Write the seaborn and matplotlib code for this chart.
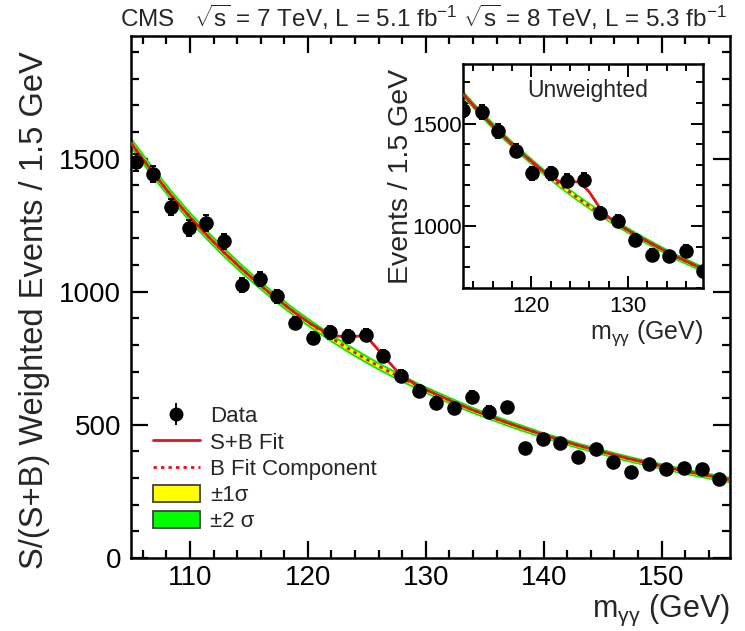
import numpy as np
import pandas as pd
import matplotlib
matplotlib.use("Agg")
import matplotlib.pyplot as plt
from matplotlib.lines import Line2D
from matplotlib.patches import Patch
from matplotlib.ticker import MultipleLocator
import seaborn as sns

# ---------------- data ----------------
mass = [105.4, 106.9, 108.4, 109.9, 111.4, 112.9, 114.4, 115.9, 117.4, 118.9,
        120.4, 121.9, 123.4, 124.9, 126.4, 127.9, 129.4, 130.9, 132.4, 133.9,
        135.4, 136.9, 138.4, 139.9, 141.4, 142.9, 144.4, 145.9, 147.4, 148.9,
        150.4, 151.9, 153.4, 154.9]
weighted_events = [1486, 1442, 1318, 1239, 1258, 1189, 1024, 1048, 982, 882,
                   826, 847, 832, 836, 759, 684, 628, 583, 563, 606,
                   550, 567, 412, 447, 431, 381, 410, 361, 324, 352,
                   335, 339, 333, 296]
weighted_err = [32, 31, 30, 29, 29, 28, 26, 26, 25, 24,
                23, 23, 23, 23, 22, 21, 20, 20, 19, 20,
                19, 19, 17, 17, 17, 16, 16, 15, 15, 15,
                15, 15, 15, 14]

fit_mass = [105.0, 105.4, 106.9, 108.4, 109.9, 111.4, 112.9, 114.4, 115.9, 117.4,
            118.9, 120.4, 121.9, 123.4, 124.9, 126.4, 127.9, 129.4, 130.9, 132.4,
            133.9, 135.4, 136.9, 138.4, 139.9, 141.4, 142.9, 144.4, 145.9, 147.4,
            148.9, 150.4, 151.9, 153.4, 154.9, 155.8]
b_fit = [1559, 1534, 1445, 1362, 1285, 1214, 1147, 1085, 1027, 972,
         921, 874, 829, 787, 748, 711, 677, 644, 614, 585,
         557, 532, 508, 485, 463, 443, 423, 405, 388, 371,
         356, 341, 327, 314, 301, 294]
sb_fit = [1559, 1534, 1445, 1362, 1285, 1214, 1147, 1085, 1027, 972,
          921, 875, 837, 829, 836, 759, 685, 645, 614, 585,
          557, 532, 508, 485, 463, 443, 423, 405, 388, 371,
          356, 341, 327, 314, 301, 294]
band1 = [11, 11, 11, 10.5, 10.5, 10, 10, 9.5, 9, 9,
         8.5, 8.5, 8, 8, 8, 7.5, 7.5, 7, 7, 7,
         6.5, 6.5, 6.5, 6.5, 6, 6, 6, 6, 6, 6,
         6, 6, 6, 6, 6, 6]
band2 = [22, 22, 22, 21, 21, 20, 20, 19, 18, 18,
         17, 17, 16, 16, 16, 15, 15, 14, 14, 14,
         13, 13, 13, 13, 12, 12, 12, 12, 12, 12,
         12, 12, 12, 12, 12, 12]

# inset (unweighted)
mass_in = [113.0, 114.9, 116.6, 118.4, 120.1, 122.0, 123.7, 125.5, 127.1, 129.0,
           130.7, 132.5, 134.2, 136.0, 137.7]
events_in = [1568, 1555, 1465, 1369, 1259, 1259, 1222, 1227, 1065, 1024,
             935, 862, 854, 882, 781]
err_in = [35, 35, 34, 33, 32, 32, 31, 31, 30, 29, 28, 27, 27, 27, 26]
fit_mass_in = [113, 115, 117, 119, 121, 122, 123, 124, 125, 126, 127, 128, 129,
               131, 133, 135, 137.7]
b_fit_in = [1641, 1538, 1444, 1357, 1276, 1238, 1201, 1166, 1132, 1099, 1068,
            1038, 1008, 953, 901, 852, 793]
sb_fit_in = [1641, 1538, 1444, 1357, 1277, 1241, 1217, 1218, 1216, 1167, 1096,
             1044, 1009, 953, 901, 852, 793]
band1_in = [9, 9, 9, 9, 8.5, 8.5, 8.5, 8.5, 8.5, 8, 8, 8, 8, 8, 8, 8, 8]
band2_in = [18, 18, 18, 17.5, 17, 17, 17, 17, 17, 16.5, 16.5, 16, 16, 16, 16, 16, 16]

main_xticks = [110, 120, 130, 140, 150]
main_yticks = [0, 500, 1000, 1500]
inset_xticks = [120, 130]
inset_yticks = [1000, 1500]

# ---------------- style ----------------
sns.set_theme(style="ticks")
plt.rcParams["font.family"] = ["Liberation Sans", "DejaVu Sans"]
plt.rcParams["mathtext.fontset"] = "custom"
plt.rcParams["mathtext.rm"] = "Liberation Sans"
plt.rcParams["mathtext.it"] = "Liberation Sans"
plt.rcParams["mathtext.bf"] = "Liberation Sans:bold"
plt.rcParams["axes.linewidth"] = 1.8

RED = "#e0141b"
YELLOW = "#ffff00"
GREEN = "#00ee00"

fig = plt.figure(figsize=(7.45, 6.31), dpi=100)
W, H = 745, 631


def px_axes(l, t, r, b):
    return [l / W, 1 - b / H, (r - l) / W, (b - t) / H]


def draw_panel(ax, fx, fb, fsb, b1, b2, dx, dy, de, ms, lw):
    fx = np.asarray(fx, float)
    fb = np.asarray(fb, float)
    b1 = np.asarray(b1, float)
    b2 = np.asarray(b2, float)
    ax.fill_between(fx, fb - b2, fb + b2, color=GREEN, lw=0, zorder=1)
    ax.fill_between(fx, fb - b1, fb + b1, color=YELLOW, lw=0, zorder=2)
    sns.lineplot(x=fx, y=fb, ax=ax, color=RED, lw=lw, linestyle=(0, (1.2, 1.5)),
                 estimator=None, sort=False, zorder=3)
    sns.lineplot(x=fx, y=np.asarray(fsb, float), ax=ax, color=RED, lw=lw,
                 estimator=None, sort=False, zorder=4)
    cont = ax.errorbar(dx, dy, yerr=de, fmt="none", ecolor="black", elinewidth=1.4,
                       capsize=2.2, capthick=1.4, zorder=5)
    sns.scatterplot(x=dx, y=dy, ax=ax, color="black", s=ms, edgecolor="black",
                    linewidth=0, zorder=6)
    return cont


# ---------------- main panel ----------------
ax = fig.add_axes(px_axes(131, 36, 730, 558))
cont = draw_panel(ax, fit_mass, b_fit, sb_fit, band1, band2,
                  mass, weighted_events, weighted_err, ms=110, lw=2.0)
ax.set_xlim(105, 155.8)
ax.set_ylim(0, 1960)
ax.set_xticks(main_xticks)
ax.set_yticks(main_yticks)
ax.xaxis.set_minor_locator(MultipleLocator(2))
ax.yaxis.set_minor_locator(MultipleLocator(100))
ax.tick_params(which="both", direction="in", top=True, right=True, width=1.6,
               labelsize=20, colors="black")
ax.tick_params(which="major", length=12)
ax.tick_params(which="minor", length=6)
ax.tick_params(axis="y", pad=7)
ax.tick_params(axis="x", pad=5)
for s in ax.spines.values():
    s.set_color("black")
ax.set_ylabel("S/(S+B) Weighted Events / 1.5 GeV", fontsize=23.5)
ax.yaxis.set_label_coords(-0.135, 0.475)
ax.set_xlabel(r"$\mathregular{m_{\gamma\gamma}}$ (GeV)", fontsize=22, ha="right")
ax.xaxis.set_label_coords(1.0, -0.066)

data_handle = (ax.errorbar([], [], yerr=[], fmt="none", ecolor="black",
                           elinewidth=1.4, capsize=2.5, capthick=1.4),
               Line2D([], [], marker="o", color="black", ls="none", ms=9))
handles = [
    data_handle,
    Line2D([], [], color=RED, lw=2.0),
    Line2D([], [], color=RED, lw=2.0, linestyle=(0, (1.2, 1.5))),
    Patch(facecolor=YELLOW, edgecolor="#404040", lw=1.3),
    Patch(facecolor="#00ff00", edgecolor="#404040", lw=1.3),
]
labels = ["Data", "S+B Fit", "B Fit Component", "±1σ", "±2 σ"]
ax.legend(handles, labels, loc="lower left", bbox_to_anchor=(0.037, 0.05),
          frameon=False, fontsize=16, borderpad=0, borderaxespad=0,
          handlelength=2.1, handleheight=0.8, handletextpad=0.45,
          labelspacing=0.22)

# ---------------- inset ----------------
axi = fig.add_axes(px_axes(463, 64, 703, 288))
draw_panel(axi, fit_mass_in, b_fit_in, sb_fit_in, band1_in, band2_in,
           mass_in, events_in, err_in, ms=110, lw=2.0)
axi.set_xlim(112.95, 137.75)
axi.set_ylim(700, 1790)
axi.set_xticks(inset_xticks)
axi.set_yticks(inset_yticks)
axi.xaxis.set_minor_locator(MultipleLocator(2))
axi.yaxis.set_minor_locator(MultipleLocator(100))
axi.tick_params(which="both", direction="in", top=True, right=True, width=1.4,
                labelsize=16, colors="black")
axi.tick_params(which="major", length=9)
axi.tick_params(which="minor", length=5)
axi.tick_params(axis="y", pad=1)
axi.tick_params(axis="x", pad=6)
for s in axi.spines.values():
    s.set_color("black")
axi.set_ylabel("Events / 1.5 GeV", fontsize=20.5)
axi.yaxis.set_label_coords(-0.205, 0.5)
axi.set_xlabel(r"$\mathregular{m_{\gamma\gamma}}$ (GeV)", fontsize=18, ha="right")
axi.xaxis.set_label_coords(1.0, -0.135)
axi.text(0.52, 0.88, "Unweighted", transform=axi.transAxes, ha="center",
         va="center", fontsize=16.5)

# ---------------- header ----------------
fig.text(727 / W, 1 - 27 / H,
         r"CMS   $\sqrt{\mathregular{s}}$ = 7 TeV, L = 5.1 fb$^{\mathregular{-1}}$ "
         r"$\sqrt{\mathregular{s}}$ = 8 TeV, L = 5.3 fb$^{\mathregular{-1}}$",
         ha="right", va="baseline", fontsize=17.5)

fig.savefig("out.png", dpi=100, facecolor="white")
